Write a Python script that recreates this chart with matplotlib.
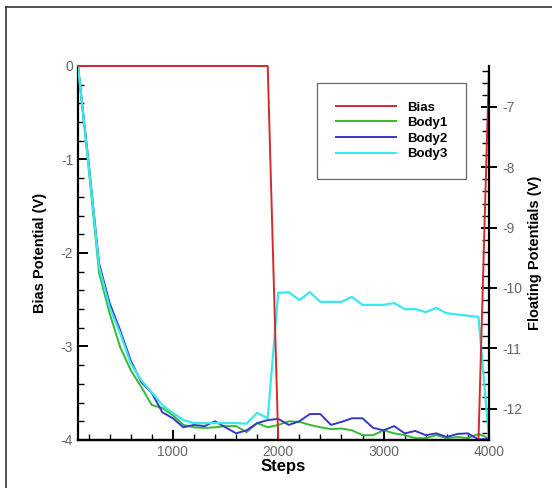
import matplotlib
matplotlib.use("Agg")
import matplotlib.pyplot as plt
from matplotlib.lines import Line2D
from matplotlib.ticker import MultipleLocator

plt.rcParams["font.family"] = ["Liberation Sans", "DejaVu Sans"]
plt.rcParams["axes.unicode_minus"] = False

# bias potential (left axis)
bias_steps = [100, 1900, 2000, 3900, 4000]
bias = [0, 0, -4, -4, 0]

# floating potentials (right axis), sampled every 100 steps
steps = list(range(100, 4001, 100))
body1 = [-6.32, -8.0, -9.75, -10.42, -10.98, -11.36, -11.64, -11.94, -11.99, -12.11,
         -12.27, -12.31, -12.32, -12.31, -12.29, -12.29, -12.39, -12.24, -12.31, -12.27,
         -12.21, -12.22, -12.27, -12.31, -12.34, -12.33, -12.36, -12.44, -12.44, -12.36,
         -12.41, -12.44, -12.49, -12.49, -12.44, -12.49, -12.47, -12.49, -12.42, -12.49]
body2 = [-6.32, -7.9, -9.59, -10.25, -10.70, -11.20, -11.56, -11.74, -12.06, -12.16,
         -12.31, -12.27, -12.29, -12.21, -12.31, -12.41, -12.36, -12.24, -12.19, -12.17,
         -12.27, -12.21, -12.09, -12.09, -12.27, -12.22, -12.16, -12.16, -12.32, -12.36,
         -12.29, -12.41, -12.37, -12.44, -12.41, -12.47, -12.42, -12.41, -12.51, -12.50]
body3 = [-6.32, -7.95, -9.65, -10.32, -10.75, -11.25, -11.53, -11.73, -11.94, -12.07,
         -12.19, -12.24, -12.24, -12.24, -12.24, -12.24, -12.25, -12.07, -12.16, -10.08,
         -10.07, -10.20, -10.07, -10.23, -10.23, -10.23, -10.15, -10.28, -10.28, -10.28,
         -10.25, -10.35, -10.35, -10.40, -10.33, -10.42, -10.44, -10.46, -10.48, -12.50]

fig = plt.figure(figsize=(5.52, 4.88), dpi=100)
ax = fig.add_axes([0.1413, 0.0984, 0.7446, 0.7664])
ax2 = ax.twinx()

c_bias = "#d42a2a"
c_b1 = "#33bb33"
c_b2 = "#3838c8"
c_b3 = "#38e8ee"

ax.set_xlim(100, 4000)
ax.set_ylim(-4, 0)
ax2.set_ylim(-12.52, -6.32)

ax2.plot(steps, body1, color=c_b1, lw=1.4)
ax2.plot(steps, body2, color=c_b2, lw=1.4)
ax2.plot(steps, body3, color=c_b3, lw=1.6)
# bias drawn in the left-axis units, mapped onto the twin axis
lo, hi = ax2.get_ylim()
ax2.plot(bias_steps, [hi + b * (hi - lo) / 4 for b in bias],
         color=c_bias, lw=1.4, clip_on=False)

for a in (ax, ax2):
    a.spines["top"].set_visible(False)
    for s in a.spines.values():
        s.set_linewidth(1.6)
ax.spines["right"].set_visible(False)
ax2.spines["left"].set_visible(False)

ax.xaxis.set_major_locator(MultipleLocator(1000))
ax.xaxis.set_minor_locator(MultipleLocator(200))
ax.yaxis.set_major_locator(MultipleLocator(1))
ax.yaxis.set_minor_locator(MultipleLocator(0.2))
ax2.yaxis.set_major_locator(MultipleLocator(1))
ax2.yaxis.set_minor_locator(MultipleLocator(0.2))

ax.tick_params(axis="both", which="major", direction="in", length=7, width=1.4,
               labelsize=10, labelcolor="#666666", top=False, right=False)
ax.tick_params(axis="both", which="minor", direction="in", length=4, width=1,
               top=False, right=False)
ax2.tick_params(axis="y", which="major", direction="inout", length=12, width=1.4,
                labelsize=10, labelcolor="#666666")
ax2.tick_params(axis="y", which="minor", direction="in", length=5, width=1)
ax2.tick_params(axis="x", which="both", bottom=False, labelbottom=False)

ax.set_xticks([1000, 2000, 3000, 4000])
ax.set_xlabel("Steps", fontsize=12, fontweight="bold", labelpad=0)
ax.set_ylabel("Bias Potential (V)", fontsize=10.5, fontweight="bold", labelpad=10)
ax2.set_ylabel("Floating Potentials (V)", fontsize=10.5, fontweight="bold", labelpad=4)

handles = [Line2D([], [], color=c_bias, lw=1.4), Line2D([], [], color=c_b1, lw=1.4),
           Line2D([], [], color=c_b2, lw=1.4), Line2D([], [], color=c_b3, lw=1.4)]
leg = ax2.legend(handles, ["Bias", "Body1", "Body2", "Body3"],
                 loc="upper left", bbox_to_anchor=(0.582, 0.955),
                 fancybox=False, framealpha=1, edgecolor="#666666",
                 prop={"weight": "bold", "size": 9.5}, handlelength=4.6,
                 borderpad=1.4, labelspacing=0.25, handletextpad=0.8,
                 borderaxespad=0)
leg.get_frame().set_linewidth(0.9)

# outer frame lines of the picture
fig.add_artist(Line2D([0.011, 1.0], [0.986, 0.986], color="#333333", lw=1.2))
fig.add_artist(Line2D([0.011, 0.011], [0.0, 0.986], color="#333333", lw=1.2))

fig.savefig("out.png", dpi=100)
